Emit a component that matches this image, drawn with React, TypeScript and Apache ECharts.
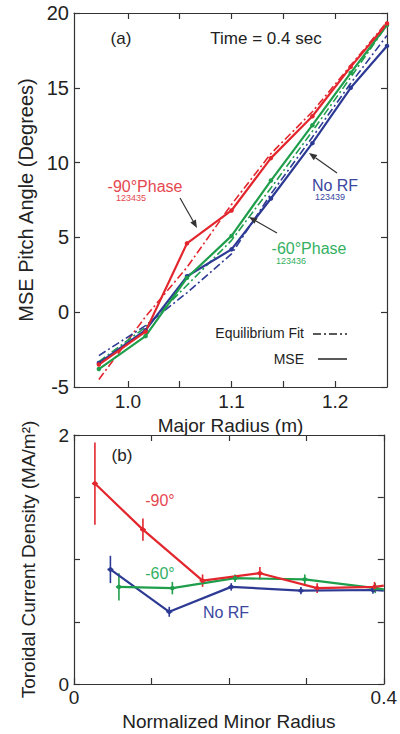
import React, { useEffect, useRef } from "react";
import * as echarts from "echarts";

const FONT = "'Liberation Sans', Arial, Helvetica, sans-serif";
const RED = "#e3262d";
const GREEN = "#1f9e4b";
const BLUE = "#2d3a94";
const RED_T = "#e5474f";
const GREEN_T = "#34b062";
const BLUE_T = "#3a46a0";
const INK = "#222222";

// Panel (a): MSE pitch angle vs major radius
const majorRadius = [0.972, 1.017, 1.057, 1.1, 1.138, 1.178, 1.215, 1.25];
const mseM90 = [-3.5, -1.3, 4.6, 6.8, 10.3, 13.1, 16.4, 19.3];
const mseM60 = [-3.8, -1.6, 2.3, 5.1, 8.8, 12.5, 16.0, 19.2];
const mseNoRF = [-3.4, -1.2, 2.4, 4.2, 7.6, 11.3, 15.0, 17.8];
const fitM90 = [-4.5, -0.3, 3.0, 7.2, 10.6, 13.4, 16.5, 19.4];
const fitM60 = [-3.3, -1.0, 1.8, 4.8, 8.3, 12.1, 15.7, 19.2];
const fitNoRF = [-2.9, -0.9, 1.3, 3.9, 7.9, 11.7, 15.3, 18.5];

// Panel (b): toroidal current density vs normalized minor radius
const rhoM90 = [0.027, 0.089, 0.166, 0.24, 0.314, 0.388];
const jM90 = [1.61, 1.24, 0.83, 0.89, 0.77, 0.78];
const errM90 = [0.33, 0.09, 0.05, 0.05, 0.04, 0.04];
const rhoM60 = [0.058, 0.127, 0.208, 0.298, 0.389];
const jM60 = [0.78, 0.77, 0.85, 0.84, 0.77];
const errM60 = [0.11, 0.05, 0.03, 0.04, 0.04];
const rhoNoRF = [0.047, 0.123, 0.203, 0.293, 0.386];
const jNoRF = [0.92, 0.58, 0.78, 0.75, 0.755];
const errNoRF = [0.11, 0.04, 0.03, 0.03, 0.03];
const edgeRho = 0.4;
const edgeM90 = 0.79;
const edgeM60 = 0.76;
const edgeNoRF = 0.75;

const zip = (xs: number[], ys: number[]) => xs.map((x, i) => [x, ys[i]]);

function withEdge(xs: number[], ys: number[], ex: number, ey: number) {
  const d: any[] = zip(xs, ys);
  d.push({ value: [ex, ey], symbol: "none" });
  return d;
}

function errData(xs: number[], ys: number[], es: number[]) {
  return xs.map((x, i) => [x, ys[i] - es[i], ys[i] + es[i], ys[i]]);
}

function errSeries(data: number[][], color: string) {
  return {
    type: "custom",
    xAxisIndex: 2,
    yAxisIndex: 2,
    data,
    silent: true,
    z: 3,
    renderItem: (params: any, api: any) => {
      const x = api.value(0);
      const p1 = api.coord([x, api.value(1)]);
      const p2 = api.coord([x, api.value(2)]);
      const pc = api.coord([x, api.value(3)]);
      return {
        type: "group",
        children: [
          {
            type: "line",
            shape: { x1: p1[0], y1: p1[1], x2: p2[0], y2: p2[1] },
            style: { stroke: color, lineWidth: 1.6 },
          },
          {
            type: "line",
            shape: { x1: pc[0] - 3, y1: pc[1], x2: pc[0] + 3, y2: pc[1] },
            style: { stroke: color, lineWidth: 1.6 },
          },
        ],
      };
    },
  };
}

function arrow(x1: number, y1: number, x2: number, y2: number) {
  const a = Math.atan2(y2 - y1, x2 - x1);
  const c = Math.cos(a);
  const s = Math.sin(a);
  const L = 8;
  const W = 3.2;
  const bx = x2 - L * c;
  const by = y2 - L * s;
  return [
    {
      type: "line",
      shape: { x1, y1, x2: bx, y2: by },
      style: { stroke: "#333", lineWidth: 1.2 },
      z: 100,
    },
    {
      type: "polygon",
      shape: { points: [[x2, y2], [bx - s * W, by + c * W], [bx + s * W, by - c * W]] },
      style: { fill: "#333" },
      z: 100,
    },
  ];
}

function txt(x: number, y: number, text: string, fill: string, size: number, align = "center") {
  return {
    type: "text",
    x,
    y,
    z: 100,
    style: {
      text,
      fill,
      fontSize: size,
      fontFamily: FONT,
      align,
      verticalAlign: "middle",
      textAlign: align,
      textVerticalAlign: "middle",
    },
  };
}

const axisLineStyle = { show: true, onZero: false, lineStyle: { color: "#333", width: 1.2 } };
const tickStyle = { inside: true, length: 6, lineStyle: { color: "#333", width: 1.2 } };

export default function App() {
  const ref = useRef<HTMLDivElement>(null);

  useEffect(() => {
    if (!ref.current) return;
    const chart = echarts.init(ref.current, undefined, { renderer: "svg" });

    const topTicks = [1.0, 1.05, 1.1, 1.15, 1.2];
    const topLabels = [1.0, 1.1, 1.2];

    const lineSeries = (data: any[], color: string, xi: number, yi: number, dashed: boolean) => ({
      type: "line",
      xAxisIndex: xi,
      yAxisIndex: yi,
      data,
      showSymbol: !dashed,
      symbol: dashed ? "none" : "circle",
      symbolSize: 4.5,
      itemStyle: { color },
      lineStyle: dashed
        ? { color, width: 1.6, type: [8, 3, 2, 3] }
        : { color, width: 2.2 },
      z: dashed ? 2 : 3,
      silent: true,
    });

    const graphic: any[] = [
      txt(121, 38, "(a)", INK, 17),
      txt(266, 38, "Time = 0.4 sec", INK, 17),
      txt(145, 186, "-90°Phase", RED_T, 16),
      txt(131, 198, "123435", RED_T, 9),
      txt(335, 185, "No RF", BLUE_T, 16),
      txt(330, 197, "123439", BLUE_T, 9),
      txt(309, 248, "-60°Phase", GREEN_T, 16),
      txt(291, 261, "123436", GREEN_T, 9),
      txt(304, 333, "Equilibrium Fit", INK, 14, "right"),
      txt(304, 359, "MSE", INK, 14, "right"),
      {
        type: "line",
        shape: { x1: 313, y1: 334, x2: 347, y2: 334 },
        style: { stroke: "#222", lineWidth: 1.5, lineDash: [8, 3, 2, 3] },
        z: 100,
      },
      {
        type: "line",
        shape: { x1: 318, y1: 359, x2: 347, y2: 359 },
        style: { stroke: "#222", lineWidth: 1.5 },
        z: 100,
      },
      ...arrow(180, 198, 197, 228),
      ...arrow(337, 173, 309, 153),
      ...arrow(277, 233, 249, 217),
      txt(122, 455, "(b)", INK, 17),
      txt(160, 500, "-90°", RED_T, 16),
      txt(160, 573, "-60°", GREEN_T, 16),
      txt(226, 612, "No RF", BLUE_T, 16),
    ];

    chart.setOption({
      animation: false,
      backgroundColor: "#ffffff",
      textStyle: { fontFamily: FONT },
      grid: [
        { left: 74, top: 13, width: 313, height: 374 },
        { left: 74, top: 435, width: 313, height: 249 },
      ],
      xAxis: [
        {
          type: "value",
          gridIndex: 0,
          position: "bottom",
          min: 0.948,
          max: 1.25,
          axisLine: axisLineStyle,
          axisTick: { ...tickStyle, customValues: topTicks },
          axisLabel: {
            customValues: topLabels,
            fontSize: 19,
            color: INK,
            fontFamily: FONT,
            margin: 5,
            formatter: (v: number) =>
              topLabels.some((t) => Math.abs(t - v) < 1e-6) ? v.toFixed(1) : "",
          },
          splitLine: { show: false },
          name: "Major Radius (m)",
          nameLocation: "middle",
          nameGap: 25,
          nameTextStyle: { fontSize: 19, color: INK, fontFamily: FONT },
        },
        {
          type: "value",
          gridIndex: 0,
          position: "top",
          min: 0.948,
          max: 1.25,
          axisLine: axisLineStyle,
          axisTick: { ...tickStyle, customValues: topTicks },
          axisLabel: { show: false },
          splitLine: { show: false },
        },
        {
          type: "value",
          gridIndex: 1,
          position: "bottom",
          min: 0,
          max: 0.4,
          interval: 0.1,
          axisLine: axisLineStyle,
          axisTick: tickStyle,
          axisLabel: {
            fontSize: 19,
            color: INK,
            fontFamily: FONT,
            margin: 4,
            formatter: (v: number) =>
              Math.abs(v) < 1e-9 ? "0" : Math.abs(v - 0.4) < 1e-9 ? "0.4" : "",
          },
          splitLine: { show: false },
          name: "Normalized Minor Radius",
          nameLocation: "middle",
          nameGap: 28,
          nameTextStyle: { fontSize: 19, color: INK, fontFamily: FONT },
        },
        {
          type: "value",
          gridIndex: 1,
          position: "top",
          min: 0,
          max: 0.4,
          interval: 0.1,
          axisLine: axisLineStyle,
          axisTick: tickStyle,
          axisLabel: { show: false },
          splitLine: { show: false },
        },
      ],
      yAxis: [
        {
          type: "value",
          gridIndex: 0,
          position: "left",
          min: -5,
          max: 20,
          interval: 5,
          axisLine: axisLineStyle,
          axisTick: tickStyle,
          axisLabel: { fontSize: 20, color: INK, fontFamily: FONT, margin: 5 },
          splitLine: { show: false },
          name: "MSE Pitch Angle (Degrees)",
          nameLocation: "middle",
          nameGap: 36,
          nameTextStyle: { fontSize: 20, color: INK, fontFamily: FONT },
        },
        {
          type: "value",
          gridIndex: 0,
          position: "right",
          min: -5,
          max: 20,
          interval: 5,
          axisLine: axisLineStyle,
          axisTick: tickStyle,
          axisLabel: { show: false },
          splitLine: { show: false },
        },
        {
          type: "value",
          gridIndex: 1,
          position: "left",
          min: 0,
          max: 2,
          interval: 0.5,
          axisLine: axisLineStyle,
          axisTick: tickStyle,
          axisLabel: {
            fontSize: 19,
            color: INK,
            fontFamily: FONT,
            margin: 5,
            formatter: (v: number) =>
              Math.abs(v) < 1e-9 ? "0" : Math.abs(v - 2) < 1e-9 ? "2" : "",
          },
          splitLine: { show: false },
          name: "Toroidal Current Density (MA/m²)",
          nameLocation: "middle",
          nameGap: 36,
          nameTextStyle: { fontSize: 19, color: INK, fontFamily: FONT },
        },
        {
          type: "value",
          gridIndex: 1,
          position: "right",
          min: 0,
          max: 2,
          interval: 0.5,
          axisLine: axisLineStyle,
          axisTick: tickStyle,
          axisLabel: { show: false },
          splitLine: { show: false },
        },
      ],
      series: [
        lineSeries(zip(majorRadius, fitM90), RED, 0, 0, true),
        lineSeries(zip(majorRadius, fitM60), GREEN, 0, 0, true),
        lineSeries(zip(majorRadius, fitNoRF), BLUE, 0, 0, true),
        lineSeries(zip(majorRadius, mseNoRF), BLUE, 0, 0, false),
        lineSeries(zip(majorRadius, mseM60), GREEN, 0, 0, false),
        lineSeries(zip(majorRadius, mseM90), RED, 0, 0, false),
        lineSeries(withEdge(rhoNoRF, jNoRF, edgeRho, edgeNoRF), BLUE, 2, 2, false),
        lineSeries(withEdge(rhoM60, jM60, edgeRho, edgeM60), GREEN, 2, 2, false),
        lineSeries(withEdge(rhoM90, jM90, edgeRho, edgeM90), RED, 2, 2, false),
        errSeries(errData(rhoNoRF, jNoRF, errNoRF), BLUE),
        errSeries(errData(rhoM60, jM60, errM60), GREEN),
        errSeries(errData(rhoM90, jM90, errM90), RED),
      ],
      graphic,
    });

    return () => chart.dispose();
  }, []);

  return (
    <div
      ref={ref}
      style={{ position: "absolute", left: 0, top: 0, width: 400, height: 734, background: "#fff" }}
    />
  );
}
